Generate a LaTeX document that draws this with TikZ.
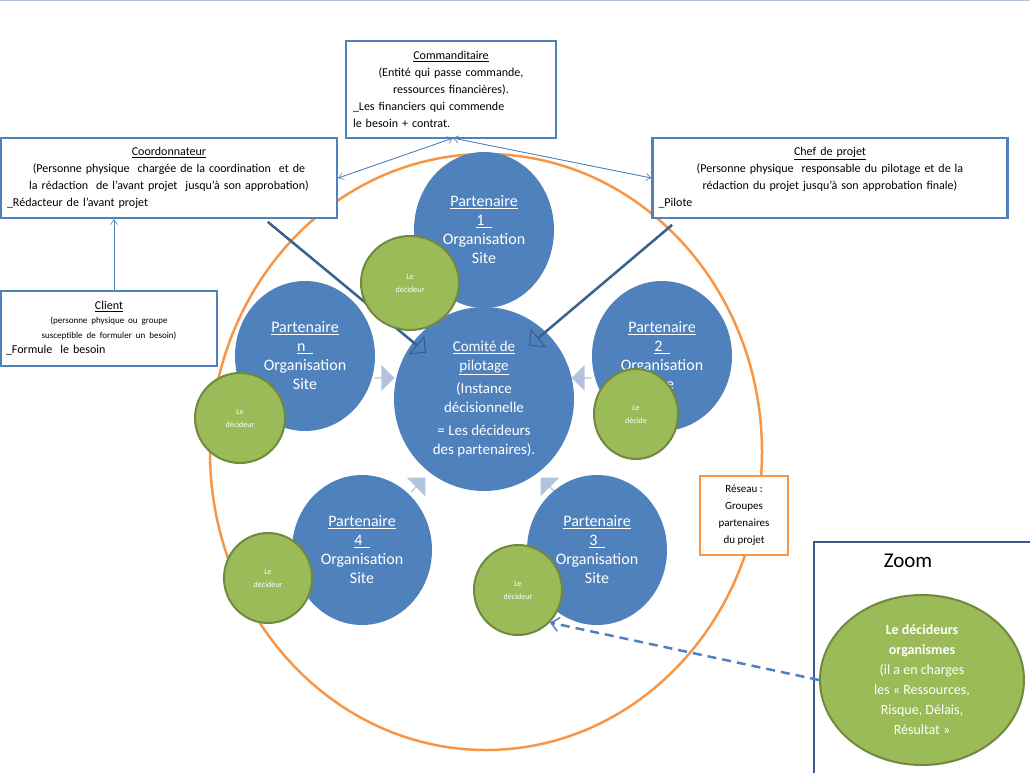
\documentclass[tikz,border=0pt]{standalone}
\usepackage{fontspec}
\setmainfont{Carlito}
\usetikzlibrary{arrows.meta,shapes.arrows,shapes.geometric}
\definecolor{pblue}{HTML}{4F81BD}
\definecolor{pgreen}{HTML}{9BBB59}
\definecolor{dgreen}{HTML}{71893F}
\definecolor{porange}{HTML}{F79646}
\definecolor{lblue}{HTML}{B3C3DD}
\definecolor{dblue}{HTML}{385D8A}
\begin{document}
\begin{tikzpicture}[x=1pt,y=-1pt,
 box/.style={draw=pblue,line width=2.2pt,fill=white},
 part/.style={ellipse,fill=pblue,text=white,align=center,font=\fontsize{16}{19}\selectfont,inner sep=0pt},
 dec/.style={ellipse,fill=pgreen,draw=dgreen,line width=2pt,text=white,align=center,font=\fontsize{8}{13}\selectfont,inner sep=0pt},
 thin/.style={pblue,line width=0.6pt,-{Straight Barb[length=5pt,width=7pt]}},
 lb/.style={fill=lblue,single arrow,minimum height=20pt,minimum width=26pt,single arrow head extend=4pt,inner sep=0pt},
 big/.style={draw=dblue,line width=1pt,fill=pblue,single arrow,minimum width=22pt,single arrow head extend=7pt,inner sep=0pt,single arrow head indent=0pt}]
\useasboundingbox (0,0) rectangle (1030,773);
\draw[lblue,line width=1pt] (0,1) -- (1030,1);
% orange ellipse
\node[ellipse,draw=porange,line width=2.5pt,minimum width=552pt,minimum height=596pt,inner sep=0pt] (net) at (486,452) {};
% light arrows
\node[lb,rotate=-90,minimum height=18pt] (a1) at (484,314) {};
\node[lb,rotate=0] (an) at (384,378) {};
\node[lb,rotate=180] (a2) at (582,378) {};
\node[lb,rotate=45] (a4) at (418,485) {};
\node[lb,rotate=135] (a3) at (548,485) {};
% partners
\node[part,minimum width=140pt,minimum height=156pt] (p1) at (484,230) {\underline{Partenaire}\\\underline{1\ \ }\\Organisation\\Site};
\node[part,minimum width=140pt,minimum height=150pt] (pn) at (305,356) {\underline{Partenaire}\\\underline{n\ \ }\\Organisation\\Site};
\node[part,minimum width=140pt,minimum height=150pt] (p2) at (662,356) {\underline{Partenaire}\\\underline{2\ \ }\\Organisation\\Site};
\node[part,minimum width=140pt,minimum height=150pt] (p4) at (362,550) {\underline{Partenaire}\\\underline{4\ \ }\\Organisation\\Site};
\node[part,minimum width=140pt,minimum height=150pt] (p3) at (597,550) {\underline{Partenaire}\\\underline{3\ \ }\\Organisation\\Site};
\node[part,minimum width=180pt,minimum height=184pt,font=\fontsize{15}{19}\selectfont] (c) at (484,399) {\underline{Comité de}\\\underline{pilotage}\\[4pt](Instance\\décisionnelle\\[4pt]= Les décideurs\\des partenaires).};
% big arrows
\node[big,minimum height=204pt,rotate=-39.6] (ba1) at (346.5,287) {};
\node[big,minimum height=186pt,rotate=220.2] (ba2) at (601,285) {};
% green
\node[dec,minimum width=98pt,minimum height=94pt] (d1) at (410,283) {Le\\décideur};
\node[dec,minimum width=90pt,minimum height=90pt] (dn) at (240,418) {Le\\décideur};
\node[dec,minimum width=84pt,minimum height=90pt] (d2) at (636,414) {Le\\décide};
\node[dec,minimum width=88pt,minimum height=90pt] (d4) at (268,578) {Le\\décideur};
\node[dec,minimum width=88pt,minimum height=90pt] (d3) at (518,590) {Le\\décideur};
% boxes
\node[box,minimum width=210pt,minimum height=97pt,font=\fontsize{12}{17}\selectfont,align=left,text width=196pt] (com) at (451,89.5) {\centering\underline{Commanditaire}\\(Entité qui passe commande,\\ressources financières).\par\raggedright \_Les financiers qui commende\\le besoin + contrat.};
\node[box,minimum width=336pt,minimum height=80pt,font=\fontsize{12}{17}\selectfont,text width=324pt,align=left] (coo) at (169,178) {\centering\underline{Coordonnateur}\\(Personne physique\ \ chargée de la coordination\ \ et de\\la rédaction\ \ de l’avant projet\ \ jusqu’à son approbation)\par\raggedright\_Rédacteur de l’avant projet};
\node[box,minimum width=355pt,minimum height=80pt,font=\fontsize{12}{17}\selectfont,text width=343pt,align=left] (chef) at (830,178) {\centering\underline{Chef de projet}\\(Personne physique\ \ responsable du pilotage et de la\\rédaction du projet jusqu’à son approbation finale)\par\raggedright\_Pilote};
\node[box,minimum width=216pt,minimum height=75pt,text width=206pt,align=left,font=\fontsize{12}{15}\selectfont] (cli) at (109,328.5) {\centering\underline{Client}\\{\fontsize{9}{14}\selectfont(personne physique ou groupe\\susceptible de formuler un besoin)}\par\raggedright\_Formule\ \ le besoin};
\node[draw=porange,line width=2.5pt,fill=white,minimum width=88pt,minimum height=79pt,align=center,font=\fontsize{11}{17}\selectfont] (res) at (744,515.5) {Réseau :\\Groupes\\partenaires\\du projet};
\node[draw=dblue,line width=2pt,fill=white,minimum width=230pt,minimum height=240pt,anchor=north west] (zb) at (813,541) {};
\node[font=\fontsize{21}{24}\selectfont] (zt) at (908,561) {Zoom};
\node[dec,minimum width=204pt,minimum height=170pt,font=\fontsize{14}{20}\selectfont] (dz) at (922,680) {\textbf{Le décideurs}\\\textbf{organismes}\\(il a en charges\\les « Ressources,\\Risque, Délais,\\Résultat »};
% connectors
\draw[thin] (com.south) ++(2,-1) coordinate (cs) -- (coo.east);
\draw[thin] (cs) -- (chef.west);
\draw[thin] (coo.east) -- (cs);
\draw[thin] (chef.west) -- (cs);
\draw[thin] (cli.north -| 114,0) coordinate (ct) -- (ct |- coo.south);
\draw[pblue,line width=2.5pt,dashed,dash pattern=on 9pt off 6pt,-{Straight Barb[length=8pt,width=14pt,line width=1.5pt]}] (dz.west) -- (d3.south east);
\end{tikzpicture}
\end{document}
